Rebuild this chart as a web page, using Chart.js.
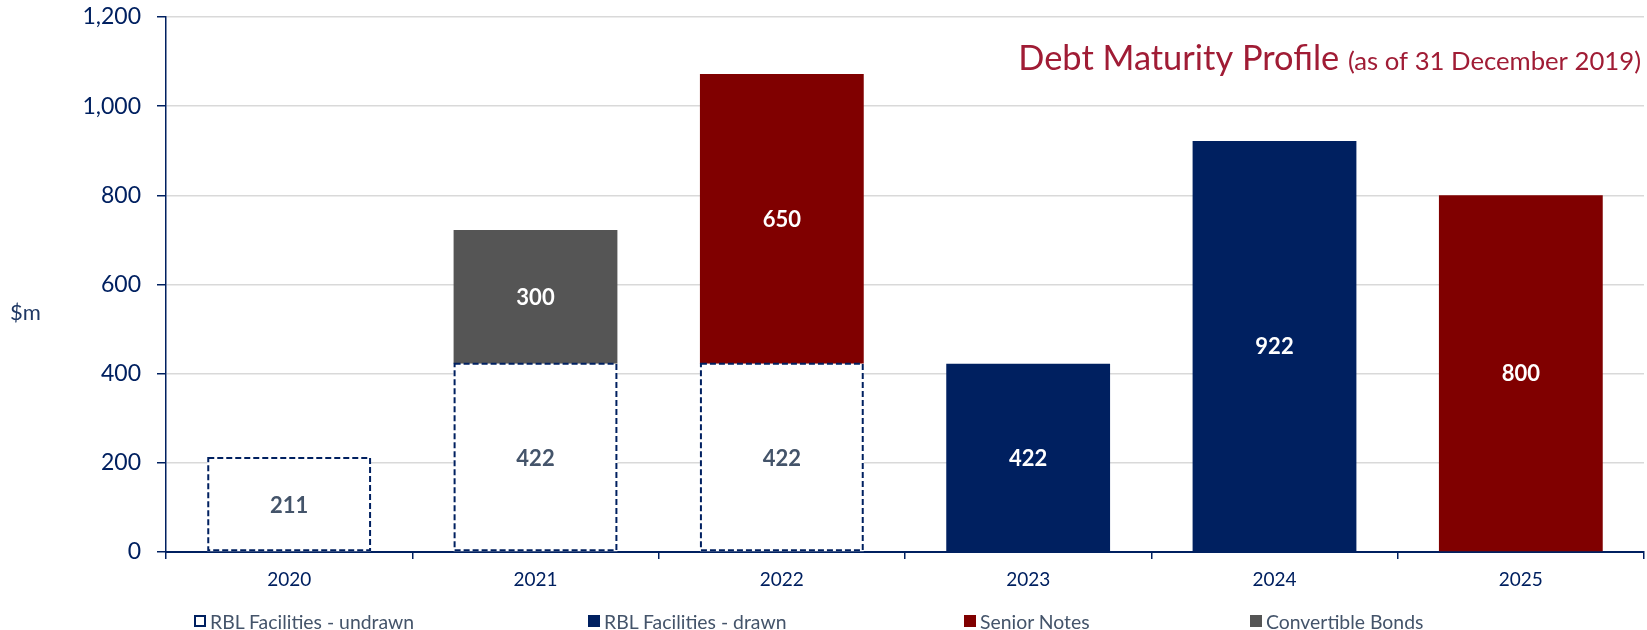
<!DOCTYPE html>
<html>
<head>
<meta charset="utf-8">
<script src="https://cdn.jsdelivr.net/npm/chart.js@4"></script>
<style>
  body { margin: 0; background: #fff; font-family: Lato, sans-serif; }
  #wrap { position: relative; width: 1647px; height: 630px; }
  #legend { position: absolute; top: 611px; left: 0; width: 1647px; height: 20px; }
  .item { position: absolute; top: 0; height: 20px; display: flex; align-items: center; font-size: 19.4px; color: #44546a; white-space: nowrap; }
  .box { width: 12px; height: 12px; margin-right: 4px; box-sizing: border-box; }
</style>
</head>
<body>
<div id="wrap">
  <canvas id="chart" width="1647" height="630"></canvas>
  <div id="legend"></div>
</div>
<script>
const years = ["2020", "2021", "2022", "2023", "2024", "2025"];
const undrawn = [211, 422, 422, null, null, null];
const drawn = [null, null, null, 422, 922, null];
const seniorNotes = [null, null, 650, null, null, 800];
const convertibles = [null, 300, null, null, null, null];
const seriesNames = ["RBL Facilities - undrawn", "RBL Facilities - drawn", "Senior Notes", "Convertible Bonds"];
const yTicks = [0, 200, 400, 600, 800, 1000, 1200];

const NAVY = "#002060";
const colors = ["#ffffff", "#002060", "#800000", "#555555"];

// dashed outline for the undrawn bars + value labels + title
const extras = {
    id: "extras",
    afterDatasetsDraw(chart) {
        const ctx = chart.ctx;
        const meta0 = chart.getDatasetMeta(0);
        ctx.save();
        ctx.strokeStyle = NAVY;
        ctx.lineWidth = 2;
        ctx.setLineDash([6, 3]);
        meta0.data.forEach((el, i) => {
            if (undrawn[i] == null) return;
            ctx.strokeRect(el.x - el.width / 2 + 1, el.y, el.width - 2, el.base - el.y - 1);
        });
        ctx.setLineDash([]);

        ctx.font = "bold 22px Lato";
        ctx.textAlign = "center";
        ctx.textBaseline = "middle";
        chart.data.datasets.forEach((ds, di) => {
            const meta = chart.getDatasetMeta(di);
            meta.data.forEach((el, i) => {
                const v = ds.data[i];
                if (v == null) return;
                ctx.fillStyle = di === 0 ? "#44546a" : "#ffffff";
                ctx.fillText(String(v), el.x, (el.y + el.base) / 2 + 1);
            });
        });
        ctx.restore();
    },
    afterDraw(chart) {
        const ctx = chart.ctx;
        ctx.save();
        ctx.fillStyle = "#a01c35";
        ctx.textAlign = "right";
        ctx.textBaseline = "alphabetic";
        ctx.font = "25.7px Lato";
        const sub = "(as of 31 December 2019)";
        const w = ctx.measureText(sub).width;
        ctx.fillText(sub, 1641, 70);
        ctx.font = "34.4px Lato";
        ctx.fillText("Debt Maturity Profile ", 1641 - w, 70);

        ctx.fillStyle = "#1f3864";
        ctx.textAlign = "left";
        ctx.font = "22px Lato";
        ctx.fillText("$m", 10, 320);
        ctx.restore();
    }
};

const datasets = [undrawn, drawn, seniorNotes, convertibles].map((d, i) => ({
    label: seriesNames[i],
    data: d,
    backgroundColor: colors[i],
    borderWidth: 0,
    barPercentage: 0.665,
    categoryPercentage: 1
}));

new Chart(document.getElementById("chart"), {
    type: "bar",
    data: { labels: years, datasets: datasets },
    options: {
        responsive: false,
        devicePixelRatio: 1,
        animation: false,
        events: [],
        layout: { padding: { top: 17, right: 3, left: 0, bottom: 0 } },
        plugins: { legend: { display: false }, tooltip: { enabled: false } },
        scales: {
            x: {
                stacked: true,
                afterFit: s => { s.height = 78; },
                grid: { offset: true, drawOnChartArea: false, drawTicks: true, tickLength: 7, tickColor: NAVY, lineWidth: 1.5 },
                border: { color: NAVY, width: 2 },
                ticks: { color: NAVY, font: { family: "Lato", size: 19 }, padding: 9 }
            },
            y: {
                stacked: true,
                min: 0,
                max: 1200,
                afterFit: s => { s.width = 166; s.paddingTop = 0; s.paddingBottom = 0; },
                afterBuildTicks: s => { s.ticks = yTicks.map(v => ({ value: v })); },
                grid: {
                    color: c => (c.tick && c.tick.value === 0) ? "rgba(0,0,0,0)" : "#d9d9d9",
                    lineWidth: 1.5,
                    tickLength: 9,
                    tickColor: NAVY
                },
                border: { color: NAVY, width: 1.5 },
                ticks: {
                    color: NAVY,
                    font: { family: "Lato", size: 23 },
                    padding: 16,
                    callback: v => v.toLocaleString("en-US")
                }
            }
        }
    },
    plugins: [extras]
});

// legend underneath
const legendX = [194, 588, 964, 1250];
const legend = document.getElementById("legend");
seriesNames.forEach((name, i) => {
    const item = document.createElement("div");
    item.className = "item";
    item.style.left = legendX[i] + "px";
    const box = document.createElement("span");
    box.className = "box";
    if (i === 0) {
        box.style.border = "2px dashed " + NAVY;
        box.style.background = "#fff";
    } else {
        box.style.background = colors[i];
    }
    item.appendChild(box);
    item.appendChild(document.createTextNode(name));
    legend.appendChild(item);
});
</script>
</body>
</html>
